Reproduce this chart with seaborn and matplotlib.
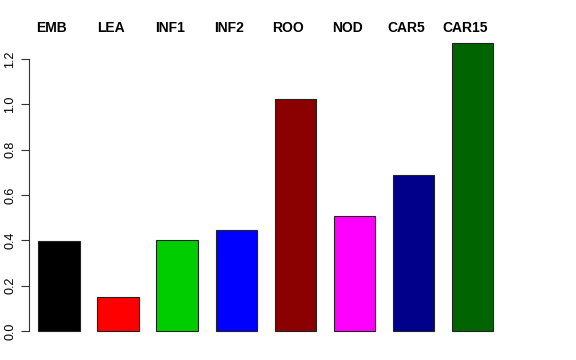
import matplotlib
matplotlib.use("Agg")
import matplotlib.pyplot as plt
import matplotlib.transforms as mtransforms
import seaborn as sns
import pandas as pd

categories = ["EMB", "LEA", "INF1", "INF2", "ROO", "NOD", "CAR5", "CAR15"]
values = [0.397, 0.150, 0.401, 0.446, 1.023, 0.507, 0.688, 1.270]
colors = ["#000000", "#FF0000", "#00CD00", "#0000FF", "#8B0000", "#FF00FF", "#00008B", "#006400"]
yticks = [0.0, 0.2, 0.4, 0.6, 0.8, 1.0, 1.2]

sns.set_style("white")
plt.rcParams["font.family"] = ["Liberation Sans", "DejaVu Sans"]
plt.rcParams["text.color"] = "black"
plt.rcParams["ytick.color"] = "black"
plt.rcParams["ytick.labelcolor"] = "black"

df = pd.DataFrame({"cat": categories, "val": values})

W, H = 576, 360
fig = plt.figure(figsize=(W / 100, H / 100), dpi=100)
left_px, right_px = 29, 545
top_px, bot_px = 31.5, 342.5
ax = fig.add_axes([left_px / W, 1 - bot_px / H, (right_px - left_px) / W, (bot_px - top_px) / H])

sns.barplot(data=df, x="cat", y="val", hue="cat", palette=colors, width=0.7,
            saturation=1, edgecolor="#222222", linewidth=0.8, legend=False, ax=ax)

ax.set_xlim(-0.508, 8.227)
ax.set_ylim(-0.0508, 1.3208)
ax.set_xlabel("")
ax.set_ylabel("")
ax.set_xticks([])
ax.set_yticks(yticks)
ax.set_yticklabels([f"{t:.1f}" for t in yticks], rotation=90, va="center", fontsize=9, color="black")
ax.tick_params(axis="y", direction="out", length=6, width=0.8, color="#333333", pad=3, left=True)
for s in ["top", "right", "bottom"]:
    ax.spines[s].set_visible(False)
ax.spines["left"].set_bounds(0, 1.2)
ax.spines["left"].set_linewidth(0.8)
ax.spines["left"].set_color("#333333")

trans = mtransforms.blended_transform_factory(ax.transData, fig.transFigure)
for i, c in enumerate(categories):
    ax.text(i - 0.12, 1 - 28 / H, c, transform=trans, ha="center", va="center",
            fontsize=10, fontweight="bold", color="black")

fig.savefig("out.png", dpi=100)
